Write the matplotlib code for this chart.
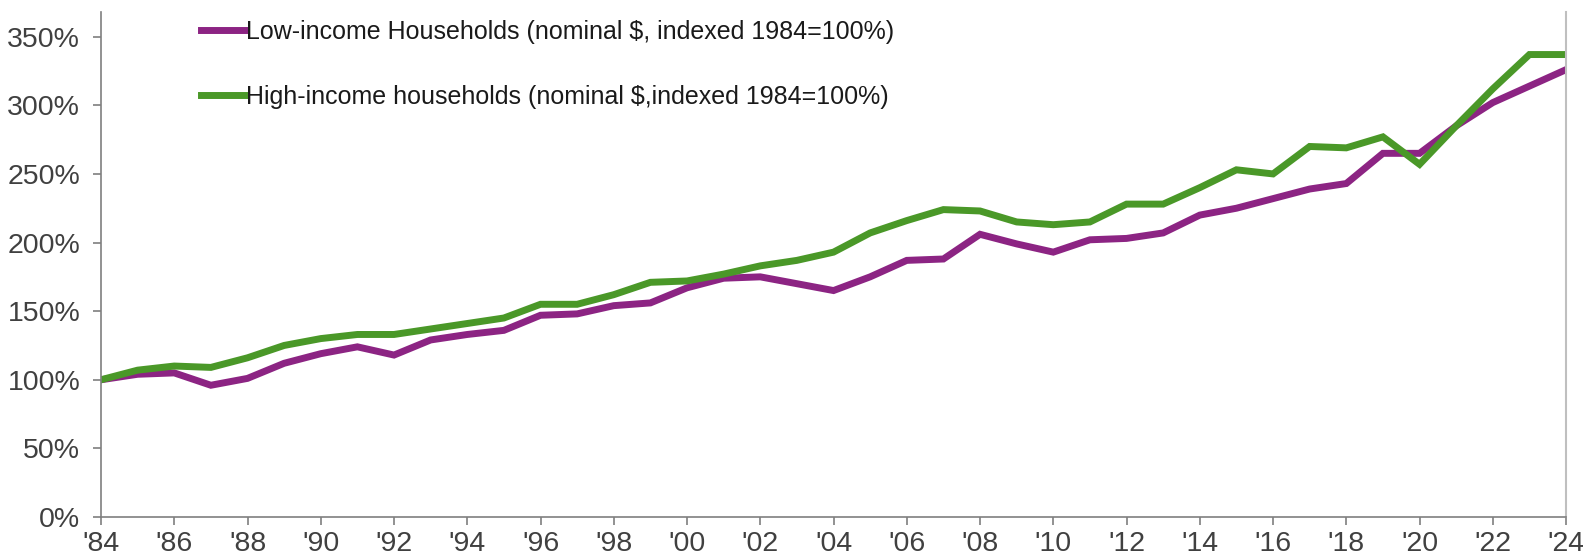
import matplotlib
matplotlib.use("Agg")
import matplotlib.pyplot as plt
from matplotlib.ticker import FuncFormatter

# -----------------------------------------
# Data (index, 1984 = 100%)
# -----------------------------------------

years = list(range(1984, 2025))

low_income = [
    100, 104, 105, 96, 101, 112, 119, 124, 118, 129,
    133, 136, 147, 148, 154, 156, 167, 174, 175, 170,
    165, 175, 187, 188, 206, 199, 193, 202, 203, 207,
    220, 225, 232, 239, 243, 265, 265, 285, 302, 314,
    326
]

high_income = [
    100, 107, 110, 109, 116, 125, 130, 133, 133, 137,
    141, 145, 155, 155, 162, 171, 172, 177, 183, 187,
    193, 207, 216, 224, 223, 215, 213, 215, 228, 228,
    240, 253, 250, 270, 269, 277, 257, 285, 312, 337,
    337
]

low_label = "Low-income Households (nominal $, indexed 1984=100%)"
high_label = "High-income households (nominal $,indexed 1984=100%)"

y_ticks = [0, 50, 100, 150, 200, 250, 300, 350]
x_ticks = list(range(1984, 2025, 2))

# -----------------------------------------
# Plot
# -----------------------------------------

fig = plt.figure(figsize=(15.83, 5.58), dpi=100)
ax = fig.add_axes([0.0638, 0.0735, 0.9255, 0.905])

ax.plot(years, low_income, color="#8C2483", linewidth=5, label=low_label,
        solid_joinstyle="miter")
ax.plot(years, high_income, color="#4A9828", linewidth=5, label=high_label,
        solid_joinstyle="miter")

ax.set_xlim(1984, 2024)
ax.set_ylim(0, 368)

ax.set_yticks(y_ticks)
ax.yaxis.set_major_formatter(FuncFormatter(lambda v, p: f"{int(v)}%"))
ax.set_xticks(x_ticks)
ax.set_xticklabels([f"'{y % 100:02d}" for y in x_ticks])

for lab in ax.get_xticklabels() + ax.get_yticklabels():
    lab.set_fontfamily(["Liberation Sans", "DejaVu Sans"])
    lab.set_fontsize(20.5)
    lab.set_color("#404040")

ax.tick_params(axis="both", direction="out", length=6, width=1.2,
               color="#7f7f7f")
ax.tick_params(axis="y", pad=9)
ax.tick_params(axis="x", pad=4)

for side in ["left", "bottom"]:
    ax.spines[side].set_color("#7f7f7f")
    ax.spines[side].set_linewidth(1.2)
ax.spines["right"].set_color("#bfbfbf")
ax.spines["right"].set_linewidth(1.5)
ax.spines["top"].set_visible(False)

leg = ax.legend(
    loc="upper left",
    bbox_to_anchor=(0.0615, 1.004),
    frameon=False,
    handlelength=1.75,
    handletextpad=0.05,
    labelspacing=1.63,
    borderaxespad=0,
    prop={"family": ["Liberation Sans", "DejaVu Sans"], "size": 18},
)
for txt in leg.get_texts():
    txt.set_color("#1a1a1a")

plt.savefig("out.png", dpi=100)
